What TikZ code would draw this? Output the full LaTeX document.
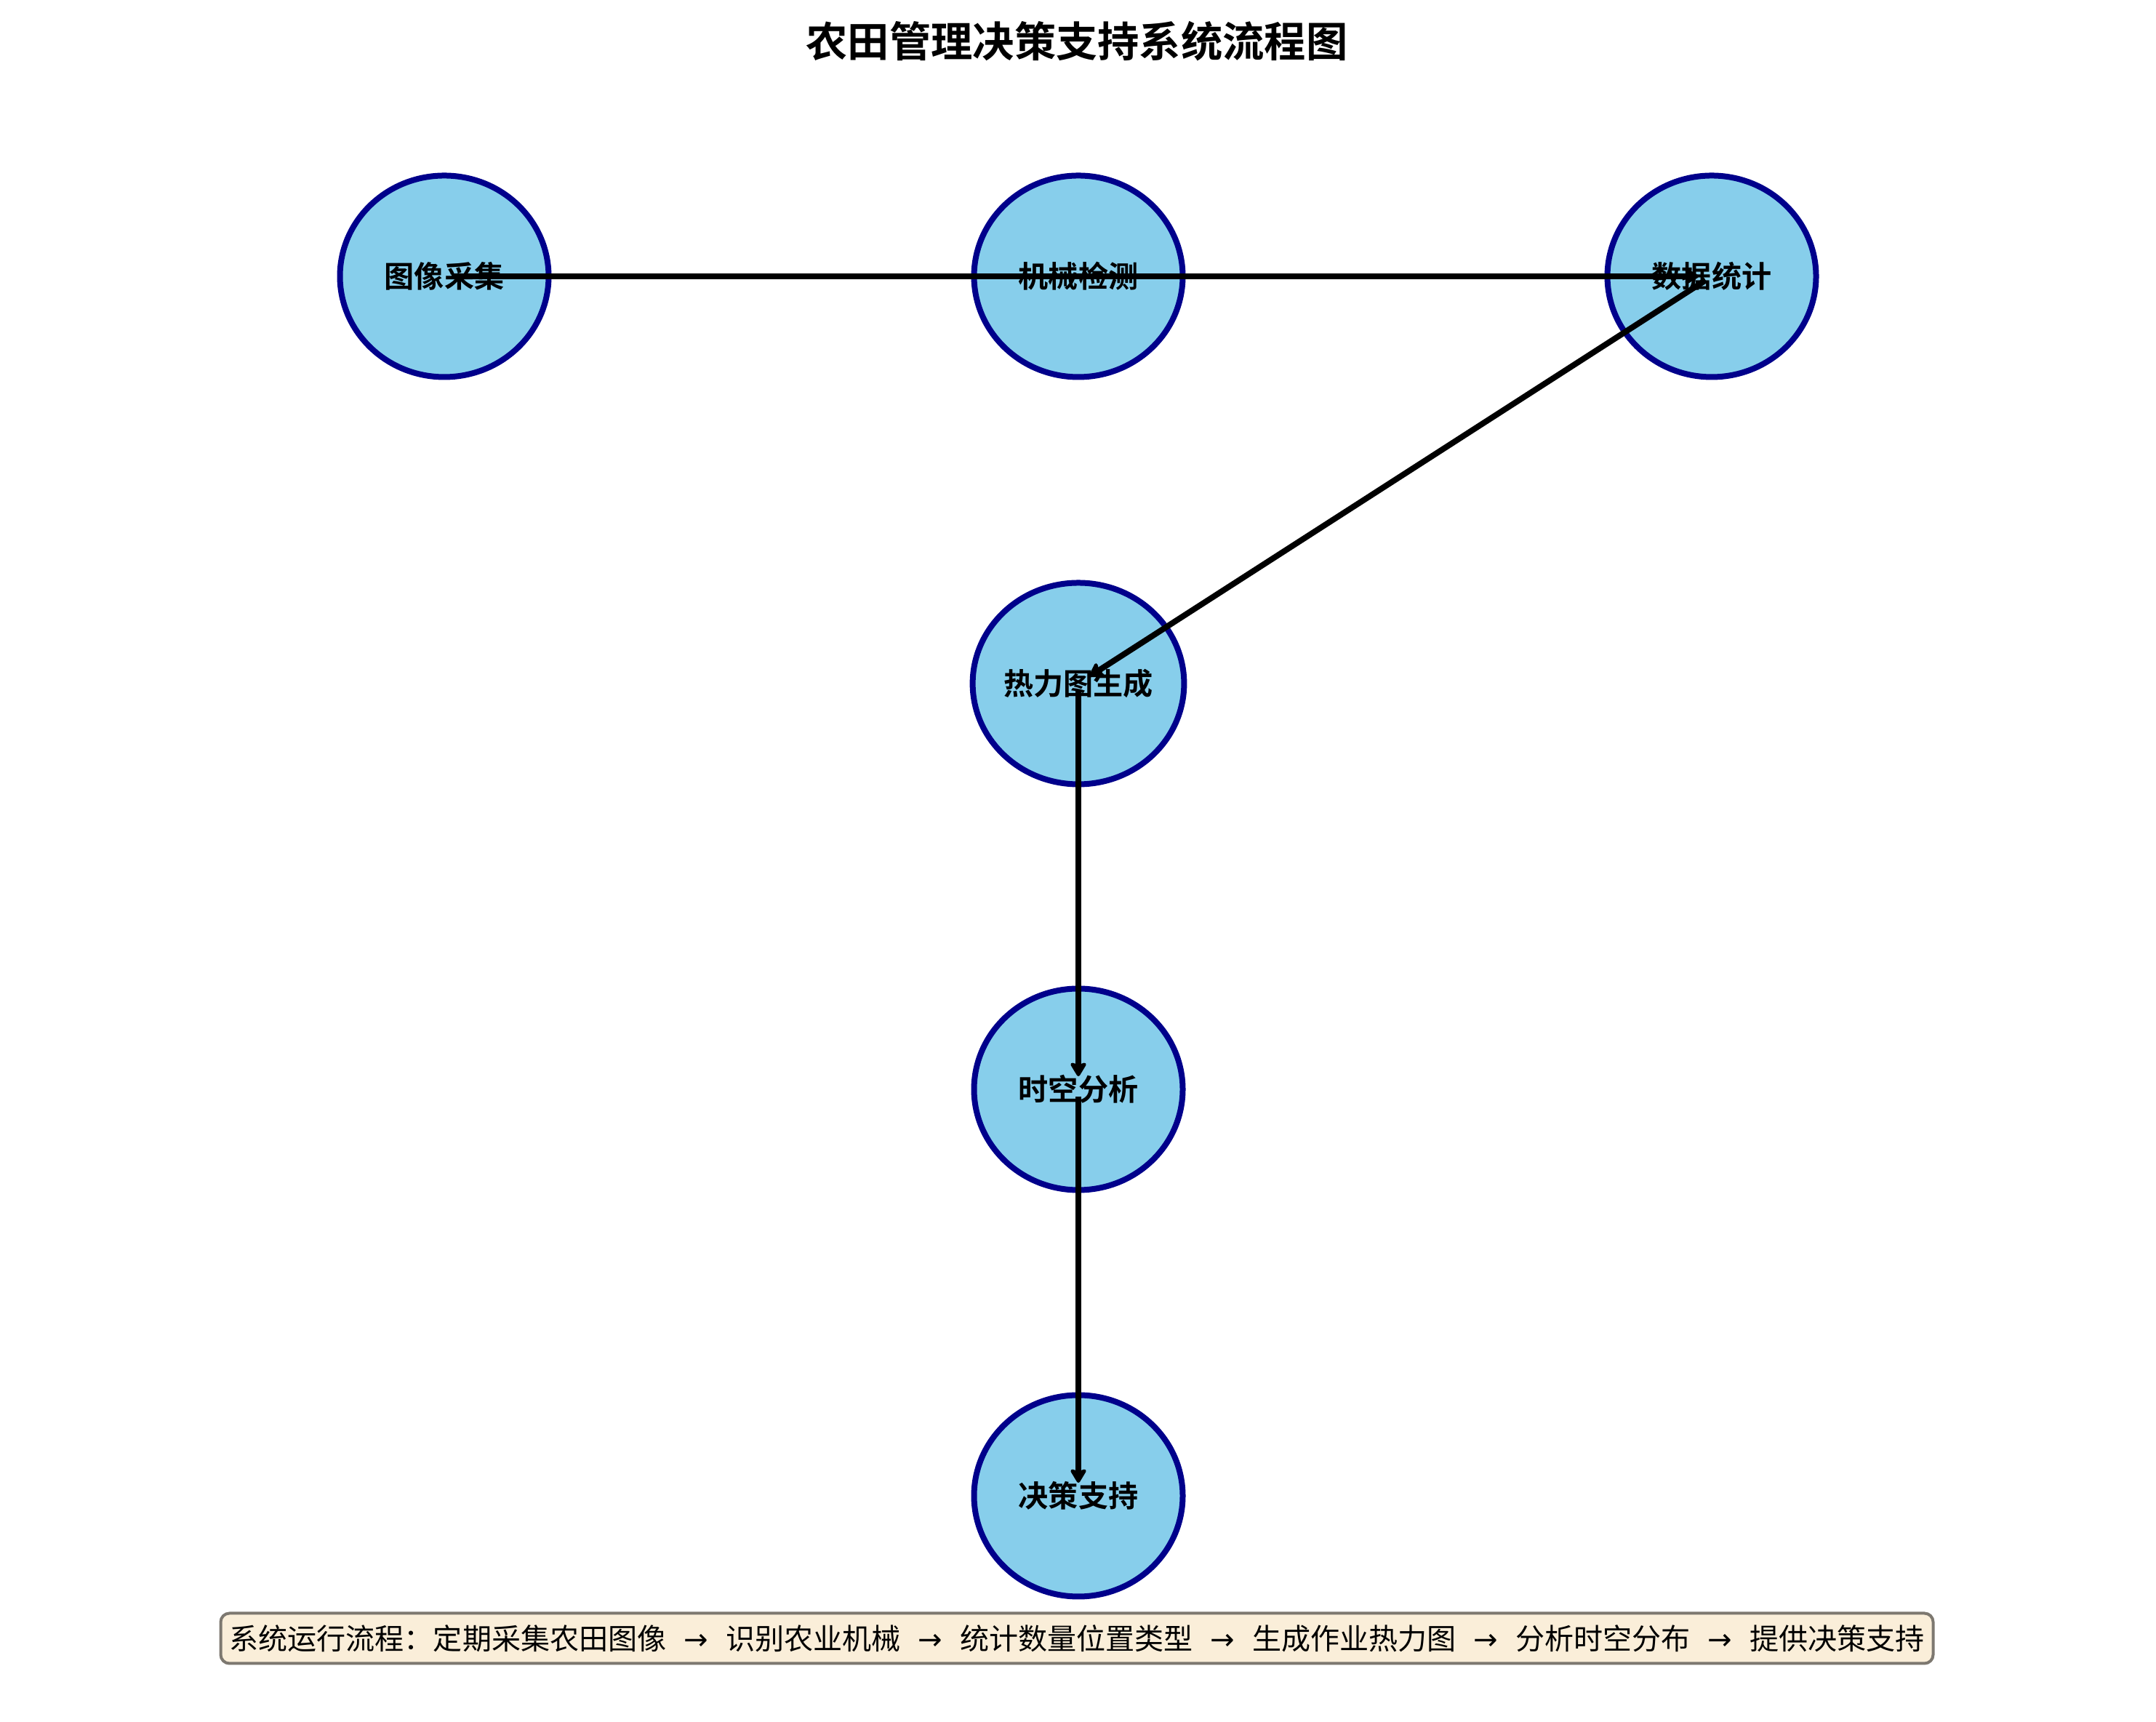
\documentclass[tikz,border=0pt]{standalone}
\usepackage{fontspec}
\setmainfont{Noto Sans CJK SC}[BoldFont={Noto Sans CJK SC Bold}]
\newfontfamily\arrowfont{DejaVu Sans}
\definecolor{nodefill}{RGB}{135, 206, 235}
\definecolor{nodeedge}{RGB}{0, 0, 139}
\definecolor{notefill}{RGB}{250, 238, 217}
\definecolor{noteedge}{RGB}{125, 120, 112}
\usetikzlibrary{shapes, arrows.meta, positioning}
\newcommand{\flowarr}{\hspace{0.24cm}{\arrowfont →}\hspace{0.24cm}}

\begin{document}
\begin{tikzpicture}[
  procnode/.style={ellipse, draw=nodeedge, fill=nodefill, line width=0.08cm,
    minimum width=2.87cm, minimum height=2.77cm, inner sep=0pt,
    font=\fontsize{11.7}{14}\selectfont\bfseries},
  flow/.style={line width=0.08cm, -{Stealth[length=0.22cm, width=0.26cm, inset=0.04cm, round]},
    shorten <=0.1cm, shorten >=0.18cm},
  notebox/.style={draw=noteedge, fill=notefill, line width=0.04cm, rounded corners=0.12cm,
    minimum width=23.55cm, minimum height=0.69cm, inner sep=0pt,
    font=\fontsize{11.4}{14}\selectfont}
]
  \useasboundingbox (0, 0) rectangle (29.65, 23.68);

  \node[font=\fontsize{16.3}{19}\selectfont\bfseries] (title) at (14.81, 23.11) {农田管理决策支持系统流程图};

  % process steps
  \node[procnode] (img)  at (6.11, 19.88)  {图像采集};
  \node[procnode] (mech) at (14.83, 19.88) {机械检测};
  \node[procnode] (stat) at (23.54, 19.88) {数据统计};
  \node[procnode] (heat) at (14.83, 14.28) {热力图生成};
  \node[procnode] (ana)  at (14.83, 8.70)  {时空分析};
  \node[procnode] (dec)  at (14.83, 3.11)  {决策支持};

  \draw[flow] (img.center) -- (mech.center) -- (stat.center);
  \draw[flow] (stat.center) -- (heat.center);
  \draw[flow] (heat.center) -- (ana.center);
  \draw[flow] (ana.center) -- (dec.center);

  \node[notebox] (note) at (14.81, 1.15) {系统运行流程：定期采集农田图像\flowarr 识别农业机械\flowarr 统计数量位置类型\flowarr 生成作业热力图\flowarr 分析时空分布\flowarr 提供决策支持};
\end{tikzpicture}
\end{document}
